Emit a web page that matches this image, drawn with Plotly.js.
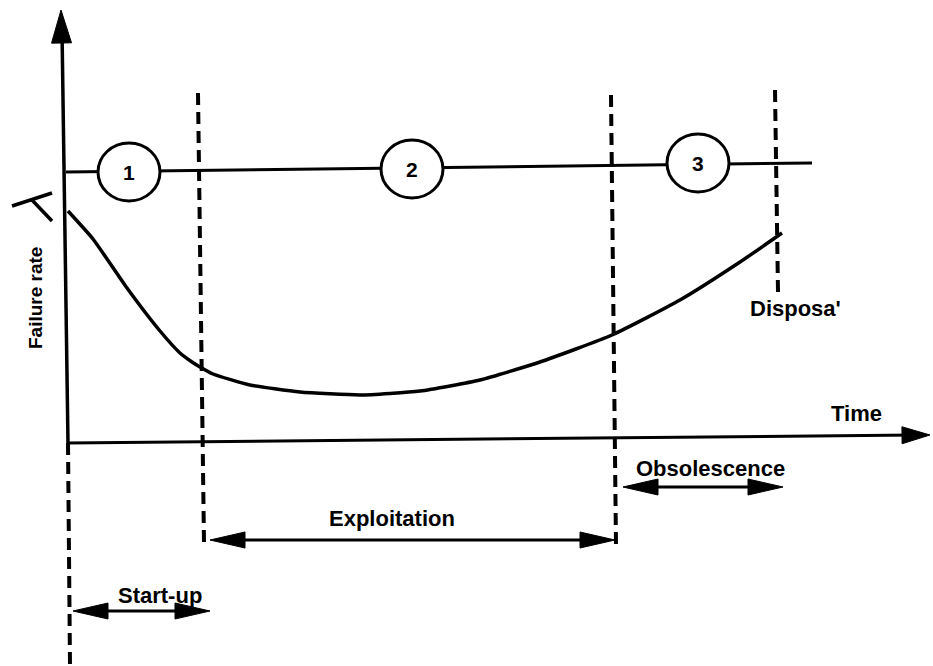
<!DOCTYPE html>
<html>
<head>
<meta charset="utf-8">
<script src="https://cdn.plot.ly/plotly-3.0.1.min.js"></script>
<style>html,body{margin:0;padding:0;background:#fff;}#chart{width:933px;height:666px;}</style>
</head>
<body>
<div id="chart"></div>
<script>
// ---- Data (schematic units: time t, failure rate r) ----
const curveTime = [0, 25, 59, 92, 112, 124, 132, 145, 182, 232, 292, 352, 412, 472, 544, 612, 672, 714];
const curveRate = [232, 204, 155, 112, 90, 81, 76, 69, 58, 51, 48, 52, 63, 81, 108, 143, 181, 210];

const boundaryTop = [130, 543, 707];
const boundaryBottom = [136, 548, 710];
const boundaryTopRate = [350, 348, 353];
const boundaryBottomRate = [-100, -102, 151];
const originLineTime = [0, 2];
const originLineRate = [0, -223];

const phaseLineTime = [-2, 744];
const phaseLineRate = [271, 280];
const phaseLabels = ["1", "2", "3"];
const phaseCenterTime = [61, 344, 630];
const phaseCenterRate = [271, 274, 280];

const periodLabels = ["Start-up", "Exploitation", "Obsolescence"];
const periodStart = [5, 142, 555];
const periodEnd = [142, 547, 715];
const periodArrowRate = [-168, -97, -44];
const periodLabelTime = [92, 324, 642];
const periodLabelRate = [-152, -75, -25];

const yAxisTitle = "Failure rate";
const xAxisTitle = "Time";
const disposalLabel = "Disposa'";

// ---- Layout helpers ----
const W = 933, H = 666;
const xRange = [-68, 865], yRange = [-223, 443];
const sx = W / (xRange[1] - xRange[0]);
const sy = H / (yRange[1] - yRange[0]);
const FONT = "'Liberation Sans', Arial, sans-serif";

function arrowHead(tx, tr, fx, fr, len, half) {
  const dxp = (tx - fx) * sx, dyp = (tr - fr) * sy;
  const d = Math.hypot(dxp, dyp);
  const ux = dxp / d, uy = dyp / d;
  const bx = tx * sx - ux * len, by = tr * sy - uy * len;
  const p1 = [(bx - uy * half) / sx, (by + ux * half) / sy];
  const p2 = [(bx + uy * half) / sx, (by - ux * half) / sy];
  return {
    type: 'path', xref: 'x', yref: 'y', layer: 'above',
    path: `M ${tx} ${tr} L ${p1[0]} ${p1[1]} L ${p2[0]} ${p2[1]} Z`,
    fillcolor: '#000', line: {color: '#000', width: 1}
  };
}

const traces = [];
const shapes = [];
const annotations = [];
const black = '#000';

// axes
const yTip = [-7, 433];
const xTip = [862, 8];
traces.push({x: [0, yTip[0] + 1], y: [0, yTip[1] - 20], mode: 'lines', line: {color: black, width: 3.5}, hoverinfo: 'skip'});
traces.push({x: [0, xTip[0] - 15], y: [0, xTip[1]], mode: 'lines', line: {color: black, width: 3}, hoverinfo: 'skip'});
shapes.push(arrowHead(yTip[0], yTip[1], 0, 0, 33, 10));
shapes.push(arrowHead(xTip[0], xTip[1], 0, 0, 28, 8.5));

// lambda-like mark at the top of the y axis
traces.push({x: [-56, -16, null, -36, -16], y: [237, 250, null, 243, 222], mode: 'lines', line: {color: black, width: 3.5}, hoverinfo: 'skip'});

// dashed phase boundaries
traces.push({x: originLineTime, y: originLineRate, mode: 'lines', line: {color: black, width: 4, dash: '12px,7px'}, hoverinfo: 'skip'});
for (let i = 0; i < boundaryTop.length; i++) {
  traces.push({x: [boundaryTop[i], boundaryBottom[i]], y: [boundaryTopRate[i], boundaryBottomRate[i]], mode: 'lines', line: {color: black, width: 4, dash: '12px,7px'}, hoverinfo: 'skip'});
}

// phase line with circles
traces.push({x: phaseLineTime, y: phaseLineRate, mode: 'lines', line: {color: black, width: 3}, hoverinfo: 'skip'});
for (let i = 0; i < phaseLabels.length; i++) {
  const rx = 31 / sx, ry = 29 / sy;
  shapes.push({type: 'circle', xref: 'x', yref: 'y', layer: 'above',
    x0: phaseCenterTime[i] - rx, x1: phaseCenterTime[i] + rx,
    y0: phaseCenterRate[i] - ry, y1: phaseCenterRate[i] + ry,
    fillcolor: '#fff', line: {color: black, width: 3}});
  annotations.push({x: phaseCenterTime[i], y: phaseCenterRate[i], xref: 'x', yref: 'y', text: phaseLabels[i], showarrow: false,
    font: {family: FONT, size: 21, color: black, weight: 'bold'}});
}

// bathtub curve
traces.push({x: curveTime, y: curveRate, mode: 'lines', line: {color: black, width: 3.5, shape: 'spline', smoothing: 0.5}, hoverinfo: 'skip'});

// period double arrows
for (let i = 0; i < periodLabels.length; i++) {
  traces.push({x: [periodStart[i] + 10, periodEnd[i] - 10], y: [periodArrowRate[i], periodArrowRate[i]], mode: 'lines', line: {color: black, width: 3}, hoverinfo: 'skip'});
  shapes.push(arrowHead(periodStart[i], periodArrowRate[i], periodEnd[i], periodArrowRate[i], 35, 8));
  shapes.push(arrowHead(periodEnd[i], periodArrowRate[i], periodStart[i], periodArrowRate[i], 35, 8));
  annotations.push({x: periodLabelTime[i], y: periodLabelRate[i], xref: 'x', yref: 'y', text: periodLabels[i], showarrow: false,
    font: {family: FONT, size: 22, color: black, weight: 'bold'}});
}

// text labels
annotations.push({x: -33, y: 145, xref: 'x', yref: 'y', text: yAxisTitle, textangle: -90, showarrow: false,
  font: {family: FONT, size: 19, color: black, weight: 'bold'}});
annotations.push({x: 788, y: 30, xref: 'x', yref: 'y', text: xAxisTitle, showarrow: false,
  font: {family: FONT, size: 22, color: black, weight: 'bold'}});
annotations.push({x: 727, y: 135, xref: 'x', yref: 'y', text: disposalLabel, showarrow: false,
  font: {family: FONT, size: 22, color: black, weight: 'bold'}});

const layout = {
  width: W, height: H,
  margin: {l: 0, r: 0, t: 0, b: 0, pad: 0},
  paper_bgcolor: '#fff', plot_bgcolor: '#fff',
  showlegend: false,
  xaxis: {range: xRange, visible: false, fixedrange: true},
  yaxis: {range: yRange, visible: false, fixedrange: true},
  shapes: shapes,
  annotations: annotations
};

Plotly.newPlot('chart', traces, layout, {staticPlot: true, displayModeBar: false});
</script>
</body>
</html>
